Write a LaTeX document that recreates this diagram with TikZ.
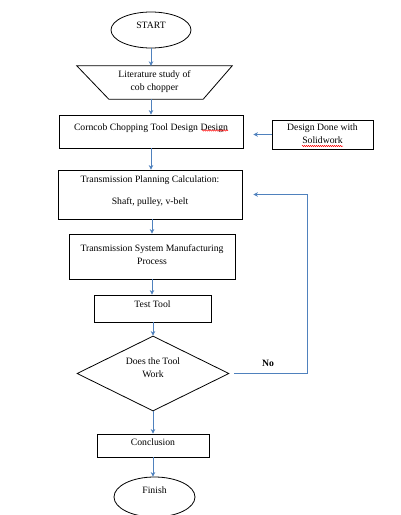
\documentclass[tikz,border=0pt]{standalone}
\usepackage{fontspec}
\setmainfont{Liberation Serif}
\usetikzlibrary{shapes.geometric,arrows.meta,decorations.pathmorphing}
\definecolor{arrowblue}{RGB}{79,129,189}
\newcommand{\rz}[2]{\raisebox{#1}[\height][\depth]{\begin{tabular}{@{}c@{}}#2\end{tabular}}}
\begin{document}
\begin{tikzpicture}[x=1pt,y=-1pt,
  every node/.style={font=\fontsize{9.7}{13}\selectfont, inner sep=0pt},
  boxnode/.style={draw=black, line width=0.8pt, rectangle},
  ovalnode/.style={draw=black, line width=0.8pt, ellipse},
  decnode/.style={draw=black, line width=0.8pt, diamond, aspect=2},
  flow/.style={draw=arrowblue, line width=0.9pt, -{Stealth[length=4.5pt,width=4.5pt]}},
  flowline/.style={draw=arrowblue, line width=0.9pt},
  spell/.style={draw=red, line width=0.5pt, decorate, decoration={snake, amplitude=0.6pt, segment length=2pt}}
]
\useasboundingbox (0,0) rectangle (400,515);

\node[ovalnode, minimum width=80pt, minimum height=36pt] (start) at (151,30) {\rz{4pt}{START}};

\node[minimum width=155pt, minimum height=33pt] (lit) at (154.5,82.5) {\rz{1pt}{Literature study of\\cob chopper}};
\draw[black, line width=0.8pt] (lit.north west) -- (lit.north east) -- ([xshift=-29pt]lit.south east) -- ([xshift=32pt]lit.south west) -- cycle;

\node[boxnode, minimum width=184pt, minimum height=33pt] (design) at (151,131.5) {\rz{4pt}{Corncob Chopping Tool Design Design}};
\node[boxnode, minimum width=101pt, minimum height=29pt] (solid) at (322.5,134.5) {\rz{0pt}{Design Done with\\Solidwork}};
\node[boxnode, minimum width=184pt, minimum height=49pt] (plan) at (150,194.5) {\rz{4pt}{Transmission Planning Calculation:\\[9pt]Shaft, pulley, v-belt}};
\node[boxnode, minimum width=166pt, minimum height=45pt] (manu) at (152,256.5) {\rz{1pt}{Transmission System Manufacturing\\Process}};
\node[boxnode, minimum width=117pt, minimum height=27pt] (test) at (152.5,308.5) {\rz{3.5pt}{Test Tool}};
\node[decnode, minimum width=152pt, minimum height=75pt] (dec) at (153,373.5) {\rz{5pt}{Does the Tool\\Work}};
\node[boxnode, minimum width=112pt, minimum height=23pt] (concl) at (153,445.5) {\rz{2.5pt}{Conclusion}};
\node[ovalnode, minimum width=81pt, minimum height=40pt] (finish) at (154.5,497) {\rz{6pt}{Finish}};

\node[font=\fontsize{9.7}{13}\selectfont\bfseries] (no) at (268,363) {No};

\coordinate (fb) at (307,373.5);

\draw[flow] (start) -- (start |- lit.north);
\draw[flow] (lit.south -| start) -- (start |- design.north);
\draw[flow] (design.south -| start) -- (start |- plan.north);
\draw[flow] ([xshift=2pt]plan.south) -- ([xshift=2pt]plan.south |- manu.north);
\draw[flow] (manu.south) -- (manu.south |- test.north);
\draw[flow] (test.south -| dec.north) -- (dec.north);
\draw[flow] (dec.south) -- (concl.north);
\draw[flow] (concl.south) -- (concl.south |- finish.north);
\draw[flow, shorten >=10pt] (solid.west) -- (design.east |- solid.west);
\draw[flow, shorten <=5pt, shorten >=11pt] (dec.east) -- (fb) -- (fb |- plan.east) -- (plan.east);

\draw[spell] (202,130.5) -- (228,130.5);
\draw[spell] (302,146) -- (343,146);
\end{tikzpicture}
\end{document}
